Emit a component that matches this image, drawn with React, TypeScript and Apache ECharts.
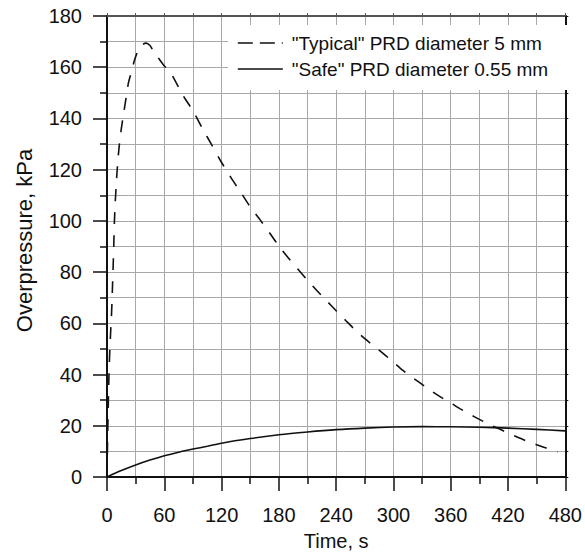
import React, { useEffect, useRef } from "react";
import * as echarts from "echarts";

const FONT = "'Liberation Sans', Arial, sans-serif";

const typicalName = '"Typical" PRD diameter 5 mm';
const safeName = '"Safe" PRD diameter 0.55 mm';

const typicalTime = [
  0, 0.5, 1, 1.5, 2, 2.5, 3, 3.5, 4, 4.6, 5.2, 5.8, 6.5, 7.2, 7.8, 8.6, 9.5, 10.5, 11.5, 13, 15, 17, 20,
  22.5, 25.5, 29, 33, 37, 41, 45, 48, 53, 59, 66, 71, 78, 83, 90, 100, 110, 120, 130, 140, 150, 160,
  170, 180, 190, 200, 210, 220, 230, 240, 250, 260, 270, 280, 290, 300, 310, 320, 330, 340, 350, 360,
  370, 380, 390, 400, 410, 420, 430, 440, 450, 460, 472,
];
const typicalPressure = [
  0, 12, 22, 31, 39, 45, 50, 54, 58, 62.5, 68, 75, 83, 92, 100, 107, 113, 119, 124, 130, 136, 141, 148,
  154, 158, 163, 166.8, 168.8, 169.4, 168.5, 166.7, 164, 161, 158, 155, 150, 147, 143, 136, 129.5,
  122.8, 116.8, 111.2, 105.5, 100.6, 95.5, 90.2, 85.5, 81.1, 76.8, 72.7, 68.8, 64.9, 61.1, 57.4, 54,
  51, 48, 44.8, 41.6, 38.8, 36.2, 33.5, 31.1, 28.9, 26.6, 24.5, 22.5, 20.6, 18.9, 17.2, 15.5, 14.0,
  12.6, 11.3, 9.7,
];

const safeTime = [0, 15, 30, 45, 60, 75, 90, 105, 120, 150, 180, 210, 240, 270, 300, 330, 360, 390, 420, 450, 480];
const safePressure = [0, 2.5, 4.7, 6.6, 8.3, 9.7, 10.9, 12, 13.2, 15, 16.5, 17.6, 18.5, 19.1, 19.5, 19.65, 19.6, 19.4, 19.1, 18.6, 18.0];

const xTicks = [0, 60, 120, 180, 240, 300, 360, 420, 480];
const yTicks = [0, 20, 40, 60, 80, 100, 120, 140, 160, 180];

const GRID_COLOR = "#a8a8a8";
const INK = "#111";
const NO_SYMBOL = { color: "rgba(0,0,0,0)", borderWidth: 0, opacity: 0 };

export default function App() {
  const ref = useRef<HTMLDivElement>(null);
  useEffect(() => {
    if (!ref.current) return;
    const chart = echarts.init(ref.current, undefined, { renderer: "svg" });
    const typicalData = typicalTime.map((t, i) => [t, typicalPressure[i]]);
    const safeData = safeTime.map((t, i) => [t, safePressure[i]]);
    const xMin = xTicks[0];
    const xMax = xTicks[xTicks.length - 1];
    const yMin = yTicks[0];
    const yMax = yTicks[yTicks.length - 1];
    chart.setOption({
      animation: false,
      backgroundColor: "#fff",
      textStyle: { fontFamily: FONT },
      grid: { left: 107, right: 18, top: 16, bottom: 82, containLabel: false },
      legend: {
        orient: "vertical",
        left: 228,
        top: 25,
        backgroundColor: "#fff",
        padding: [8, 21, 11, 9],
        itemWidth: 45,
        itemHeight: 20,
        itemGap: 6,
        selectedMode: false,
        itemStyle: NO_SYMBOL,
        textStyle: { fontSize: 19, color: INK, fontFamily: FONT, lineHeight: 20, padding: [0, 0, 0, 4] },
        data: [
          { name: typicalName, itemStyle: NO_SYMBOL, lineStyle: { type: [15, 7], width: 1.6, color: INK } },
          { name: safeName, itemStyle: NO_SYMBOL, lineStyle: { type: "solid", width: 1.6, color: INK } },
        ],
      },
      xAxis: [
        {
          type: "value",
          min: xMin,
          max: xMax,
          interval: 60,
          name: "Time, s",
          nameLocation: "middle",
          nameGap: 54,
          nameTextStyle: { fontSize: 20, color: INK, fontFamily: FONT },
          axisLine: { show: true, onZero: false, lineStyle: { color: INK, width: 2 } },
          axisTick: { show: true, inside: false, length: 14, lineStyle: { color: INK, width: 1.5 } },
          minorTick: { show: true, splitNumber: 2, length: 7, lineStyle: { color: INK, width: 1.5 } },
          axisLabel: { fontSize: 20, color: INK, margin: 28, fontFamily: FONT },
          splitLine: { show: true, lineStyle: { color: GRID_COLOR, width: 1 } },
          minorSplitLine: { show: true, lineStyle: { color: GRID_COLOR, width: 1 } },
        },
        {
          type: "value",
          position: "top",
          min: xMin,
          max: xMax,
          interval: 30,
          axisLine: { show: true, onZero: false, lineStyle: { color: "#555", width: 2 } },
          axisTick: { show: true, inside: false, length: 3, lineStyle: { color: "#555", width: 1 } },
          axisLabel: { show: false },
          splitLine: { show: false },
        },
      ],
      yAxis: [
        {
          type: "value",
          min: yMin,
          max: yMax,
          interval: 20,
          name: "Overpressure, kPa",
          nameLocation: "middle",
          nameGap: 72,
          nameTextStyle: { fontSize: 22, color: INK, fontFamily: FONT, padding: [0, 0, 0, 12] },
          axisLine: { show: true, onZero: false, lineStyle: { color: INK, width: 2 } },
          axisTick: { show: true, inside: false, length: 14, lineStyle: { color: INK, width: 1.5 } },
          minorTick: { show: true, splitNumber: 2, length: 7, lineStyle: { color: INK, width: 1.5 } },
          axisLabel: { fontSize: 20, color: INK, margin: 25, fontFamily: FONT },
          splitLine: { show: true, lineStyle: { color: GRID_COLOR, width: 1 } },
          minorSplitLine: { show: true, lineStyle: { color: GRID_COLOR, width: 1 } },
        },
        {
          type: "value",
          position: "right",
          min: yMin,
          max: yMax,
          interval: 10,
          axisLine: { show: true, onZero: false, lineStyle: { color: INK, width: 2 } },
          axisTick: { show: true, inside: false, length: 3, lineStyle: { color: INK, width: 1 } },
          axisLabel: { show: false },
          splitLine: { show: false },
        },
      ],
      series: [
        {
          name: typicalName,
          type: "line",
          xAxisIndex: 0,
          yAxisIndex: 0,
          data: typicalData,
          showSymbol: false,
          symbol: "none",
          smooth: 0.3,
          lineStyle: { color: INK, width: 1.6, type: [12, 11] },
          itemStyle: { color: INK },
          z: 3,
        },
        {
          name: safeName,
          type: "line",
          xAxisIndex: 0,
          yAxisIndex: 0,
          data: safeData,
          showSymbol: false,
          symbol: "none",
          smooth: 0.3,
          lineStyle: { color: INK, width: 1.6, type: "solid" },
          itemStyle: { color: INK },
          z: 3,
        },
      ],
    });
    return () => chart.dispose();
  }, []);
  return (
    <div
      ref={ref}
      style={{ position: "fixed", left: 0, top: 0, width: 585, height: 559, background: "#fff" }}
    />
  );
}
